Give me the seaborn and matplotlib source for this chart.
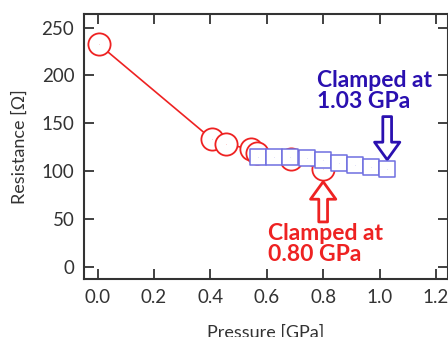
import numpy as np
import pandas as pd
import seaborn as sns
import matplotlib.pyplot as plt

# Red circles: clamped at 0.80 GPa
p_red = [0.005, 0.406, 0.456, 0.543, 0.567, 0.685, 0.798]
r_red = [232.4, 133.3, 128.4, 122.9, 118.7, 112.4, 102.0]

# Blue squares: clamped at 1.03 GPa
p_blue = [0.570, 0.626, 0.683, 0.742, 0.799, 0.856, 0.913, 0.970, 1.028]
r_blue = [115.1, 115.1, 115.1, 114.1, 111.7, 108.9, 106.8, 104.1, 102.0]

xticks = [0.0, 0.2, 0.4, 0.6, 0.8, 1.0, 1.2]
yticks = [0, 50, 100, 150, 200, 250]

red = "#ee2222"
blue = "#6f6fe0"
blue_txt = "#2a10b0"

sns.set_style("ticks")
plt.rcParams['font.family'] = ['Lato', 'DejaVu Sans']

fig = plt.figure(figsize=(4.48, 3.37), dpi=100)
ax = fig.add_axes([0.1875, 0.171, 0.8115, 0.787])

df_red = pd.DataFrame({"p": p_red, "r": r_red})
df_blue = pd.DataFrame({"p": p_blue, "r": r_blue})

sns.lineplot(data=df_red, x="p", y="r", ax=ax, color=red, lw=1.2,
             marker="o", markersize=16, markerfacecolor="white",
             markeredgecolor=red, markeredgewidth=1.3, zorder=2)
sns.scatterplot(data=df_red, x="p", y="r", ax=ax, color=red, s=2,
                marker=".", linewidth=0, zorder=3)
sns.scatterplot(data=df_blue, x="p", y="r", ax=ax, marker="s", s=135,
                facecolor="white", edgecolor=blue, linewidth=1.1, zorder=4)
sns.scatterplot(data=df_blue, x="p", y="r", ax=ax, color=blue, s=2,
                marker=".", linewidth=0, zorder=5)

# hollow arrows
ax.annotate("", xy=(0.80, 89), xytext=(0.80, 47),
            arrowprops=dict(arrowstyle="simple,head_width=1.3,head_length=0.9,tail_width=0.45",
                            fc="white", ec=red, lw=2, mutation_scale=14,
                            shrinkA=0, shrinkB=0))
ax.annotate("", xy=(1.027, 112), xytext=(1.027, 157),
            arrowprops=dict(arrowstyle="simple,head_width=1.3,head_length=0.9,tail_width=0.45",
                            fc="white", ec=blue_txt, lw=2, mutation_scale=14,
                            shrinkA=0, shrinkB=0))

ax.text(0.777, 206, "Clamped at\n1.03 GPa", color=blue_txt, fontsize=16.5,
        fontweight="bold", va="top", ha="left", linespacing=1.0)
ax.text(0.605, 46, "Clamped at\n0.80 GPa", color=red, fontsize=16.5,
        fontweight="bold", va="top", ha="left", linespacing=1.0)

ax.set_xlim(-0.048, 1.241)
ax.set_ylim(-13, 264)
ax.set_xticks(xticks)
ax.set_yticks(yticks)
ax.set_xticklabels([f"{t:.1f}" for t in xticks])
ax.set_xlabel("Pressure [GPa]", fontsize=13, color="#333333", labelpad=13)
ax.set_ylabel("Resistance [Ω]", fontsize=13, color="#333333", labelpad=10)
ax.tick_params(direction="in", length=7, width=1.3, top=True, right=True,
               labelsize=13.5, colors="#333333", pad=7)
for s in ax.spines.values():
    s.set_linewidth(1.5)
    s.set_color("#333333")
    s.set_visible(True)

fig.savefig("out.png", dpi=100)
